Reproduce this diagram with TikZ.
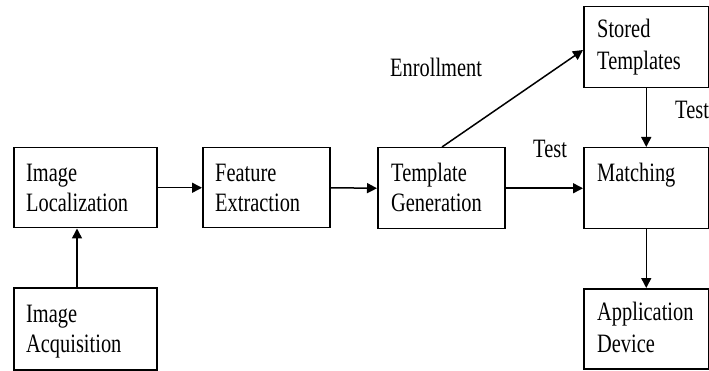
\documentclass[tikz,border=0pt]{standalone}
\usepackage{graphicx}
\usepackage{fontspec}
\setmainfont{Liberation Serif}
\usetikzlibrary{arrows.meta}
\newcommand{\stx}[1]{\scalebox{1}[1.3]{#1}}
\tikzset{
  box/.style={draw, line width=1.5pt, inner sep=0pt, anchor=north west},
  txt/.style={anchor=base west, inner sep=0pt, font=\fontsize{20.4}{24}\selectfont},
  arr/.style={line width=1.5pt, -{Triangle[length=10pt,width=10pt]}},
  conn/.style={line width=1.5pt}
}
\begin{document}
\begin{tikzpicture}[x=1pt,y=-1pt]
\useasboundingbox (0,0) rectangle (709,371);
% boxes
\node[box, minimum width=143pt, minimum height=80pt] (loc) at (13,147) {};
\node[box, minimum width=143pt, minimum height=82pt] (acq) at (13,287) {};
\node[box, minimum width=127pt, minimum height=80pt] (fea) at (202,147) {};
\node[box, minimum width=127pt, minimum height=81pt] (tem) at (377,147) {};
\node[box, minimum width=125pt, minimum height=81pt] (sto) at (583,6) {};
\node[box, minimum width=125pt, minimum height=81pt] (mat) at (583,147) {};
\node[box, minimum width=125pt, minimum height=80pt] (app) at (583,288) {};
% box texts
\node[txt] (t1a) at ([shift={(13,35)}]loc.north west) {\stx{Image}};
\node[txt] (t1b) at ([shift={(13,65)}]loc.north west) {\stx{Localization}};
\node[txt] (t2a) at ([shift={(13,35)}]acq.north west) {\stx{Image}};
\node[txt] (t2b) at ([shift={(13,65)}]acq.north west) {\stx{Acquisition}};
\node[txt] (t3a) at ([shift={(13,35)}]fea.north west) {\stx{Feature}};
\node[txt] (t3b) at ([shift={(13,65)}]fea.north west) {\stx{Extraction}};
\node[txt] (t4a) at ([shift={(14,35)}]tem.north west) {\stx{Template}};
\node[txt] (t4b) at ([shift={(14,65)}]tem.north west) {\stx{Generation}};
\node[txt] (t5a) at ([shift={(14,32)}]sto.north west) {\stx{Stored}};
\node[txt] (t5b) at ([shift={(14,64)}]sto.north west) {\stx{Templates}};
\node[txt] (t6a) at ([shift={(14,35)}]mat.north west) {\stx{Matching}};
\node[txt] (t7a) at ([shift={(14,32)}]app.north west) {\stx{Application}};
\node[txt] (t7b) at ([shift={(14,64)}]app.north west) {\stx{Device}};
% free labels
\node[txt] (enr) at (390,77) {\stx{Enrollment}};
\node[txt] (test1) at (533,158) {\stx{Test}};
\node[txt] (test2) at (675,119) {\stx{Test}};
% connectors
\coordinate (c1) at (77,0);
\coordinate (e1) at (442,0);
\coordinate (e2) at (0,50);
\draw[arr] (acq.north -| c1) -- (loc.south -| c1);
\draw[arr] (loc.east) -- (fea.west);
\draw[arr] (fea.east) -- (tem.west);
\draw[arr] (tem.east) -- (mat.west);
\draw[arr] (tem.north -| e1) -- (sto.west |- e2);
\draw[arr] (sto.south) -- (mat.north);
\draw[arr] (mat.south) -- (app.north);
\end{tikzpicture}
\end{document}
